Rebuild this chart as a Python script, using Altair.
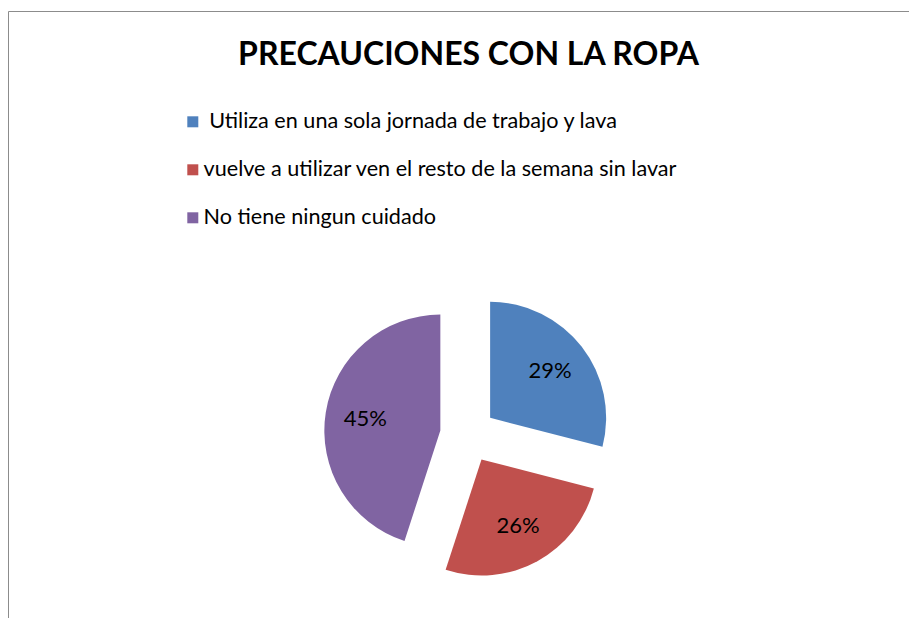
import altair as alt
import pandas as pd

categories = [
    "\u200b\u00a0Utiliza en una sola jornada de trabajo y lava",
    "vuelve a utilizar ven el resto de la semana sin lavar",
    "No tiene ningun cuidado",
]
values = [29, 26, 45]
colors = ["#4F81BD", "#C0504D", "#8064A2"]
order = [0, 1, 2]

df = pd.DataFrame({"cat": categories, "val": values, "idx": order})

CX, CY, EXPL, R, LR = 460, 427, 28, 116, 76

base = (
    alt.Chart(df)
    .transform_window(cum="sum(val)", sort=[alt.SortField("idx")], frame=[None, 0])
    .transform_joinaggregate(total="sum(val)")
    .transform_calculate(
        t1="datum.cum / datum.total * 2 * PI",
        t0="(datum.cum - datum.val) / datum.total * 2 * PI",
    )
    .transform_calculate(mid="(datum.t0 + datum.t1) / 2")
    .transform_calculate(
        px=f"{CX} + {EXPL} * sin(datum.mid)",
        py=f"{CY} - {EXPL} * cos(datum.mid)",
        lx=f"{CX} + {EXPL + LR} * sin(datum.mid)",
        ly=f"{CY} - {EXPL + LR} * cos(datum.mid)",
        label="datum.val + '%'",
    )
)

arcs = base.mark_arc(outerRadius=R).encode(
    theta=alt.Theta("t0:Q", scale=None, stack=False),
    theta2="t1:Q",
    x=alt.X("px:Q", scale=None),
    y=alt.Y("py:Q", scale=None),
    color=alt.Color(
        "cat:N",
        scale=alt.Scale(domain=categories, range=colors),
        sort=categories,
        legend=alt.Legend(
            title=None,
            orient="none",
            legendX=174,
            legendY=103,
            symbolType="square",
            symbolSize=121,
            symbolStrokeWidth=0,
            labelFont="Lato",
            labelFontSize=21.6,
            labelColor="#000000",
            labelLimit=0,
            labelOffset=0,
            rowPadding=25,
        ),
    ),
)

labels = base.mark_text(font="Lato", fontSize=22, color="#000000").encode(
    x=alt.X("lx:Q", scale=None),
    y=alt.Y("ly:Q", scale=None),
    text="label:N",
)

frame = (
    alt.Chart(pd.DataFrame({"a": [0]}))
    .mark_rect(fillOpacity=0, stroke="#8c8c8c", strokeWidth=1)
    .encode(x=alt.value(0.5), x2=alt.value(2000), y=alt.value(3.5), y2=alt.value(2000))
)

chart = (
    alt.layer(frame, arcs, labels)
    .properties(
        width=901,
        height=610,
        autosize=alt.AutoSizeParams(type="none"),
        padding=0,
        title=alt.TitleParams(
            "PRECAUCIONES CON LA ROPA",
            font="Lato",
            fontSize=32,
            fontWeight="bold",
            color="#000000",
            anchor="middle",
            dx=10,
            dy=89,
            offset=0,
            baseline="alphabetic",
        ),
    )
    .configure_view(stroke=None)
)

chart.save("out.html", embed_options={"renderer": "svg", "actions": False})
